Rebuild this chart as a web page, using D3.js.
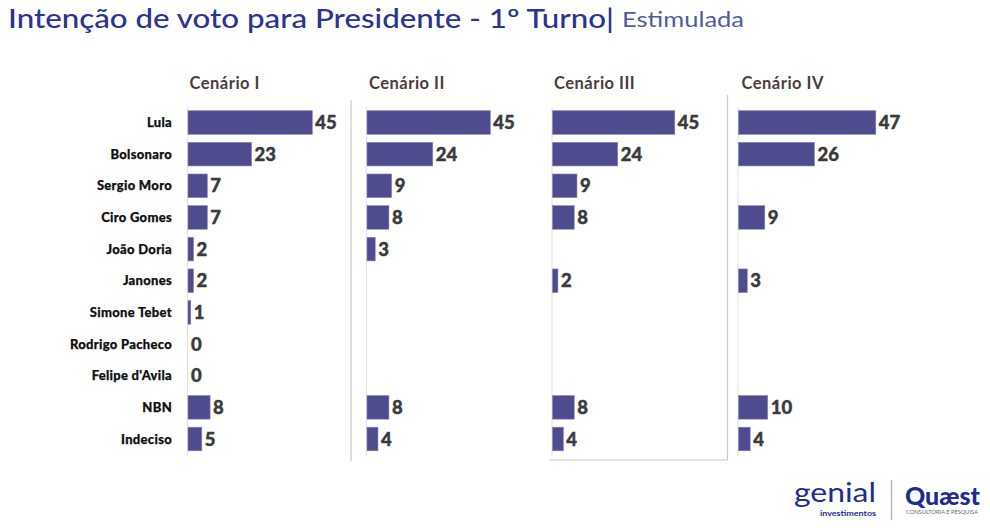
<!DOCTYPE html>
<html>
<head>
<meta charset="utf-8">
<script src="https://cdn.jsdelivr.net/npm/d3@7"></script>
<style>
  html, body { margin: 0; padding: 0; background: #fff; }
  svg { display: block; font-family: Lato, "Open Sans", sans-serif; }
</style>
</head>
<body>
<svg id="chart" width="990" height="528"></svg>
<script>
// ---------- DATA ----------
const categories = ["Lula", "Bolsonaro", "Sergio Moro", "Ciro Gomes", "João Doria", "Janones",
  "Simone Tebet", "Rodrigo Pacheco", "Felipe d'Avila", "NBN", "Indeciso"];
const scenarioNames = ["Cenário I", "Cenário II", "Cenário III", "Cenário IV"];
const cenario1 = [45, 23, 7, 7, 2, 2, 1, 0, 0, 8, 5];
const cenario2 = [45, 24, 9, 8, 3, null, null, null, null, 8, 4];
const cenario3 = [45, 24, 9, 8, null, 2, null, null, null, 8, 4];
const cenario4 = [47, 26, null, 9, null, 3, null, null, null, 10, 4];
const scenarioValues = [cenario1, cenario2, cenario3, cenario4];
const titleText = "Intenção de voto para Presidente - 1º Turno|";
const subtitleText = "Estimulada";

// ---------- LAYOUT ----------
const svg = d3.select("#chart");
const panelX = [188, 367, 552.5, 738.5];          // bar baselines
const panelPx = [124.3, 123.3, 122.3, 137.3];      // pixel length of each panel's max value
const headerX = [189.5, 369, 554, 741.5];
const barColor = "#4f4b8f";
const step = 31.65, barH = 23.6, top0 = 110.7;

const yb = d3.scaleBand().domain(categories)
  .range([top0, top0 + step * 10 + barH])
  .paddingInner(1 - barH / step).paddingOuter(0);

// Title
svg.append("text").attr("x", 8).attr("y", 28)
  .attr("font-size", 26).attr("fill", "#2b3590").attr("font-weight", 500)
  .attr("textLength", 606).attr("lengthAdjust", "spacingAndGlyphs")
  .text(titleText);
svg.append("text").attr("x", 622).attr("y", 27)
  .attr("font-size", 21).attr("fill", "#4f5ca3")
  .attr("textLength", 122).attr("lengthAdjust", "spacingAndGlyphs")
  .text(subtitleText);

// Category labels
svg.append("g").selectAll("text").data(categories).join("text")
  .attr("x", 172).attr("y", d => yb(d) + yb.bandwidth() / 2)
  .attr("dy", "0.36em").attr("text-anchor", "end")
  .attr("font-size", 13).attr("font-weight", 900).attr("fill", "#111")
  .attr("letter-spacing", 0.3)
  .attr("stroke", "#111").attr("stroke-width", 0.25)
  .text(d => d);

// Separator lines
const sep = svg.append("g").attr("stroke", "#c9c9c9").attr("stroke-width", 1.2);
sep.append("line").attr("x1", 351).attr("x2", 351).attr("y1", 100).attr("y2", 461);
sep.append("line").attr("x1", 727.5).attr("x2", 727.5).attr("y1", 95).attr("y2", 460);
sep.append("line").attr("x1", 549).attr("x2", 727.5).attr("y1", 460).attr("y2", 460);

// Panels
scenarioValues.forEach((vals, i) => {
  const maxV = d3.max(vals);
  const x = d3.scaleLinear().domain([0, maxV]).range([panelX[i], panelX[i] + panelPx[i]]);
  const g = svg.append("g");
  g.append("text").attr("x", headerX[i]).attr("y", 89)
    .attr("font-size", 16.5).attr("font-weight", 700).attr("fill", "#4a3d3b")
    .attr("letter-spacing", 0.5)
    .text(scenarioNames[i]);
  g.append("line").attr("x1", panelX[i] - 0.5).attr("x2", panelX[i] - 0.5)
    .attr("y1", 107).attr("y2", 456).attr("stroke", "#e2e2e2").attr("stroke-width", 1);
  const rows = categories.map((c, k) => ({ c, v: vals[k] })).filter(d => d.v !== null);
  g.selectAll("rect").data(rows.filter(d => d.v > 0)).join("rect")
    .attr("x", x(0)).attr("y", d => yb(d.c))
    .attr("width", d => x(d.v) - x(0)).attr("height", yb.bandwidth())
    .attr("fill", barColor).attr("stroke", "#8683bd").attr("stroke-width", 0.6);
  g.selectAll("text.val").data(rows).join("text").attr("class", "val")
    .attr("x", d => x(d.v) + 3).attr("y", d => yb(d.c) + yb.bandwidth() / 2)
    .attr("dy", "0.36em").attr("font-size", 18.5).attr("font-weight", 900)
    .attr("fill", "#3b3b3b").attr("stroke", "#3b3b3b").attr("stroke-width", 0.4)
    .text(d => d.v);
});

// Logos (text recreation)
const logo = svg.append("g");
logo.append("text").attr("x", 794).attr("y", 502).attr("font-size", 26)
  .attr("fill", "#1f2c8f").attr("font-weight", 400).text("genial")
  .attr("textLength", 82).attr("lengthAdjust", "spacingAndGlyphs");
logo.append("text").attr("x", 820).attr("y", 516).attr("font-size", 7.5)
  .attr("fill", "#1f2c8f").attr("font-weight", 700).attr("textLength", 56)
  .attr("lengthAdjust", "spacingAndGlyphs").text("investimentos");
logo.append("line").attr("x1", 891.5).attr("x2", 891.5).attr("y1", 480).attr("y2", 520)
  .attr("stroke", "#9fb3bd").attr("stroke-width", 1.3);
logo.append("text").attr("x", 905).attr("y", 505).attr("font-size", 25)
  .attr("fill", "#1f2c8f").attr("font-weight", 900).attr("textLength", 75)
  .attr("lengthAdjust", "spacingAndGlyphs").text("Quæst");
logo.append("text").attr("x", 906).attr("y", 514).attr("font-size", 5.5)
  .attr("fill", "#666").attr("textLength", 72)
  .attr("lengthAdjust", "spacingAndGlyphs").text("CONSULTORIA E PESQUISA");
</script>
</body>
</html>
